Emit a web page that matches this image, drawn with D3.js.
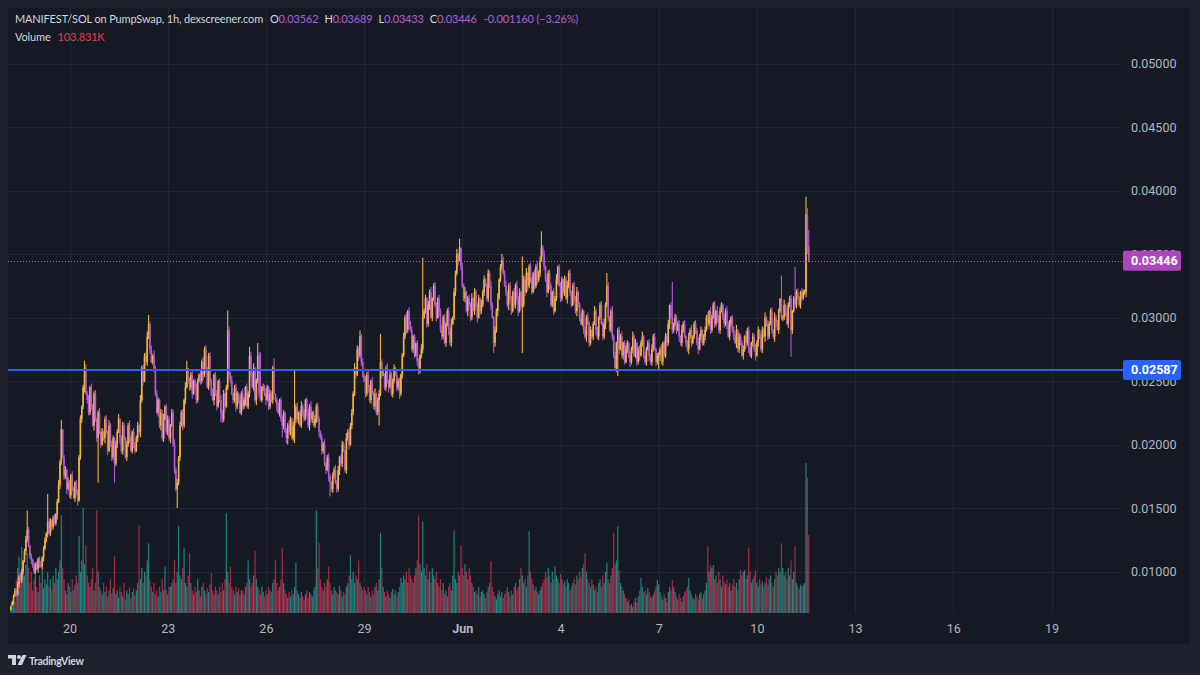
<!DOCTYPE html>
<html>
<head>
<meta charset="utf-8">
<title>MANIFEST/SOL on PumpSwap, 1h</title>
<style>
  html, body { margin: 0; padding: 0; background: #1e222d; }
  svg { display: block; }
  text { font-family: Roboto, "Noto Sans", sans-serif; }
</style>
</head>
<body>
<svg id="chart"></svg>
<script src="https://d3js.org/d3.v7.min.js"></script>
<script>
// hourly candles, prices in units of 0.00001 SOL
const firstOpen = 700;
const closes = [
  730, 760, 810, 850, 820, 900, 960, 930, 1000,
  1080, 1160, 1250, 1330, 1200, 1120, 1090, 1040, 1000, 1060, 1020, 1100, 1050,
  1040, 1110, 1180, 1250, 1300, 1390, 1300, 1400, 1350, 1420, 1380, 1450,
  1550, 1680, 1860, 2120,
  1900, 1750, 1800, 1650, 1700, 1600, 1760, 1650, 1580, 1700, 1620, 1560,
  1900, 2200, 2300, 2450, 2600, 2400,
  2350, 2250, 2450, 2300, 2150, 2400, 2200, 2050, 2250, 2100,
  2000, 2100, 2050, 2200, 2100, 1950, 2150, 2000, 1900, 2050, 1850,
  2000, 2100, 2200, 2050, 1950, 2150, 2050, 1900, 2000, 2150, 2050, 1950, 2100, 2000, 1950, 2050, 2150,
  2100, 2350, 2600, 2500, 2700, 2650, 2850, 2950,
  2750, 2650, 2700, 2600,
  2400, 2250, 2350, 2150, 2250, 2050, 2200, 2300, 2100, 2200, 2050, 2150, 2250,
  2000, 1800, 1650, 1700, 1900, 2150,
  2250, 2150, 2350, 2450, 2600, 2500, 2450, 2550, 2400, 2500, 2450, 2350, 2500, 2550,
  2500, 2650, 2550, 2750, 2600, 2450, 2700, 2500, 2400,
  2350, 2550, 2400, 2300, 2500, 2350, 2250, 2200, 2400, 2300, 2450,
  2900, 2550,
  2500, 2400, 2350, 2450, 2300, 2400, 2350, 2250, 2400, 2300, 2350, 2450, 2300, 2400,
  2700, 2550,
  2450, 2600, 2350, 2500, 2700, 2400, 2350, 2450,
  2450, 2400, 2350, 2450, 2300, 2400, 2350, 2600, 2400,
  2350, 2300, 2250, 2350, 2200, 2150, 2250, 2100, 2050, 2150, 2100, 2200, 2050, 2150,
  2200, 2300, 2200,
  2250, 2150, 2300, 2250, 2200, 2350, 2250, 2150, 2300, 2200, 2250, 2150, 2200, 2300, 2200,
  2100, 2050, 1950, 2000, 1850, 1800,
  1900, 1750, 1700, 1650, 1750, 1800,
  1700, 1650, 1800, 1900, 1850, 2000, 1950, 1800, 2050, 2100, 2000, 2150, 2250,
  2400, 2600, 2550, 2750, 2700, 2850, 2650, 2550,
  2500, 2400, 2550, 2450, 2350, 2500, 2400, 2300, 2400, 2250, 2350, 2400,
  2650, 2550,
  2550, 2450, 2600, 2500, 2450, 2550, 2400, 2500, 2600, 2550, 2450, 2500, 2400, 2550,
  2700, 2850, 3000, 2900, 3050, 2950,
  2900, 2750, 2850, 2700, 2800, 2650, 2600, 2700, 2750,
  3000,
  3050, 3150, 2950, 3100, 3200, 3000, 3150, 3250, 3100, 3000, 3150, 3050,
  2900, 2850, 3000, 2800, 2950, 3050, 2900, 2800, 2950, 3000,
  3200, 3350, 3500, 3450, 3550, 3400,
  3250, 3150, 3200, 3050, 3150, 3100, 3000, 3150, 3050, 3200, 3100, 3000, 3150, 3050, 3100,
  3200, 3300, 3250, 3150, 3350, 3250,
  3100, 3000, 2800, 2900, 3050, 3150,
  3300, 3400, 3450, 3350, 3250,
  3200, 3100, 3250, 3150, 3050, 3200, 3100, 3250, 3150, 3050, 3200, 3100,
  3100,
  3300, 3200, 3350, 3250, 3400, 3300, 3200, 3350, 3250, 3400, 3300, 3350,
  3450, 3550, 3500, 3400,
  3300, 3200, 3350, 3250, 3100, 3200, 3050, 3150, 3300, 3400, 3250, 3150, 3300,
  3200, 3300, 3150, 3250, 3350, 3200, 3100, 3250, 3150, 3050, 3200, 3100,
  3000, 2950, 3050, 2900, 2850, 3000, 2950, 2800, 2900, 2850,
  2950, 3050, 2900, 2850, 3000, 3100, 2950, 2850, 2950,
  3100, 3250, 3000, 2900, 3050,
  2850, 2700, 2600, 2800, 2900,
  2750, 2850, 2700, 2800, 2650, 2750, 2800, 2700, 2650, 2750, 2850, 2700, 2800, 2650,
  2750, 2700, 2800, 2850, 2700, 2650, 2750, 2800, 2700, 2650, 2750, 2850, 2750, 2650, 2700,
  2700, 2750, 2650, 2800, 2700, 2850, 2800,
  2950, 3100, 3000, 2900, 2950, 3000,
  2900, 2950, 2850, 2800, 2900, 2950, 2850, 2800, 2750, 2850, 2900, 2800, 2850, 2950, 2900, 2800, 2750, 2850, 2900, 2800, 2850, 2900,
  3000, 2950, 3050, 2900, 3000, 3100, 2950, 3050, 3000, 2900, 3050, 3100, 3000, 2950, 3050, 2950, 2850, 2950, 3000, 2900,
  2850, 2800, 2900, 2750, 2850, 2800, 2700, 2750, 2850, 2800, 2900, 2750, 2700, 2800, 2850, 2750, 2700, 2800, 2900, 2850, 2750,
  2900, 2850, 3000, 2950, 2850, 2950, 3050, 2900, 2850, 3000, 2950, 2900, 3050, 3150, 3000,
  3000, 3100, 3050, 2950, 3100, 3150, 2900, 3050, 3150, 3100, 3200, 3150, 3100, 3200, 3150, 3200, 3200,
  3810, 3562, 3446
];
// upper / lower wick length per candle, units of 0.0001 SOL
const wickUp = [
  0, 1, 1, 2, 1, 2, 1, 3, 2, 1, 2, 3, 0, 2, 1, 2, 1, 3, 1, 2, 1, 2, 3, 1, 2,
  2, 1, 0, 3, 2, 1, 2, 3, 1, 2, 4, 2, 3, 0, 2, 3, 1, 4, 2, 1, 3, 2, 1, 2, 3,
  2, 3, 1, 2, 0, 3, 2, 4, 1, 3, 2, 2, 3, 1, 2, 4, 2, 3, 1, 2, 3, 1, 4, 2, 3,
  2, 1, 3, 2, 4, 1, 2, 3, 2, 1, 3, 2, 4, 2, 1, 3, 2, 2, 3, 1, 4, 2, 3, 2, 3,
  4, 0, 2, 3, 1, 4, 2, 3, 2, 1, 3, 2, 4, 1, 2, 3, 2, 1, 3, 2, 4, 2, 3, 1, 3,
  2, 3, 1, 4, 2, 0, 3, 2, 4, 1, 2, 3, 2, 1, 3, 2, 4, 2, 3, 1, 2, 3, 2, 4, 1,
  2, 3, 1, 2, 4, 2, 3, 1, 2, 0, 3, 2, 4, 1, 2, 3, 2, 1, 3, 2, 4, 2, 1, 3, 2,
  0, 3, 2, 4, 1, 2, 0, 3, 2, 1, 3, 2, 4, 2, 1, 3, 2, 2, 4, 0, 2, 3, 1, 2, 3,
  2, 1, 3, 2, 4, 2, 1, 3, 0, 2, 3, 1, 2, 4, 2, 3, 1, 2, 3, 2, 4, 1, 2, 3, 2,
  3, 2, 1, 3, 2, 4, 1, 2, 3, 2, 1, 3, 2, 4, 2, 3, 1, 2, 3, 2, 1, 4, 2, 3, 2,
  3, 2, 4, 1, 3, 2, 0, 2, 3, 1, 4, 2, 3, 2, 1, 3, 2, 4, 1, 2, 3, 0, 2, 3, 1,
  2, 4, 1, 3, 2, 2, 3, 1, 4, 2, 3, 1, 2, 3, 2, 4, 1, 3, 2, 3, 1, 2, 0, 2, 3,
  1, 4, 0, 2, 3, 1, 3, 2, 4, 1, 2, 3, 2, 1, 3, 2, 4, 2, 3, 1, 2, 3, 2, 4, 1,
  3, 2, 4, 1, 2, 0, 3, 2, 4, 1, 2, 3, 2, 4, 1, 3, 2, 2, 3, 1, 4, 2, 3, 1, 2,
  3, 2, 4, 2, 1, 3, 2, 4, 1, 2, 0, 3, 2, 4, 1, 2, 3, 2, 1, 3, 2, 4, 2, 3, 1,
  0, 3, 2, 4, 1, 2, 3, 2, 1, 3, 2, 4, 2, 3, 0, 2, 3, 1, 4, 2, 3, 2, 1, 3, 2,
  4, 1, 2, 3, 2, 1, 3, 2, 4, 2, 3, 1, 2, 3, 2, 4, 1, 2, 3, 2, 1, 3, 2, 4, 2,
  3, 1, 2, 4, 2, 3, 1, 2, 3, 2, 4, 2, 0, 3, 1, 2, 4, 2, 3, 1, 2, 3, 2, 4, 1,
  2, 3, 2, 1, 3, 2, 4, 2, 3, 1, 2, 3, 2, 4, 1, 3, 2, 2, 3, 1, 4, 2, 3, 1, 2,
  3, 2, 4, 1, 2, 3, 2, 3, 0, 2, 4, 1, 3, 2, 2, 3, 1, 4, 2, 3, 1, 2, 3, 2, 4,
  1, 2, 3, 2, 4, 2, 3, 1, 2, 3, 2, 4, 1, 3, 2, 2, 3, 1, 4, 2, 3, 2, 1, 3, 2,
  4, 2, 3, 1, 2, 3, 2, 4, 1, 3, 2, 2, 3, 1, 4, 2, 3, 2, 1, 3, 2, 4, 2, 3, 1,
  2, 3, 2, 4, 1, 3, 2, 2, 3, 1, 4, 2, 3, 2, 0, 3, 2, 4, 1, 3, 2, 2, 3, 1, 2,
  0, 2, 3, 2, 1, 3, 2, 2, 0, 0, 0
];
const wickDown = [
  1, 0, 2, 1, 2, 1, 3, 1, 2, 2, 1, 3, 2, 1, 2, 3, 1, 2, 2, 1, 3, 2, 1, 2, 3,
  1, 2, 3, 1, 2, 3, 2, 1, 2, 4, 1, 3, 2, 1, 3, 2, 4, 1, 2, 3, 2, 1, 3, 2, 4,
  1, 2, 3, 2, 4, 1, 3, 2, 2, 3, 1, 4, 2, 3, 0, 2, 3, 1, 2, 4, 2, 3, 1, 2, 3,
  2, 0, 2, 3, 1, 4, 2, 3, 2, 1, 3, 2, 4, 1, 2, 3, 2, 1, 3, 2, 4, 2, 3, 1, 2,
  3, 2, 4, 1, 2, 3, 2, 1, 3, 2, 4, 2, 3, 1, 2, 3, 2, 4, 1, 2, 3, 2, 0, 2, 3,
  1, 4, 2, 3, 1, 2, 3, 2, 4, 1, 2, 3, 2, 1, 3, 2, 4, 2, 3, 1, 2, 3, 2, 1, 4,
  2, 3, 1, 2, 0, 3, 2, 4, 1, 2, 3, 2, 1, 3, 2, 4, 2, 3, 1, 2, 3, 2, 4, 1, 2,
  3, 2, 1, 3, 2, 4, 2, 3, 1, 2, 3, 2, 4, 1, 3, 2, 2, 3, 0, 2, 4, 1, 3, 2, 2,
  3, 1, 4, 0, 2, 3, 1, 2, 0, 3, 2, 4, 1, 2, 3, 2, 1, 3, 2, 4, 2, 3, 1, 2, 3,
  2, 4, 1, 3, 2, 2, 3, 1, 4, 0, 2, 3, 2, 1, 3, 2, 4, 2, 3, 1, 2, 3, 2, 4, 1,
  3, 2, 2, 3, 1, 4, 2, 3, 2, 1, 3, 2, 4, 2, 3, 1, 2, 3, 2, 0, 4, 2, 3, 1, 2,
  3, 2, 4, 1, 2, 3, 2, 1, 3, 2, 4, 2, 3, 1, 2, 3, 2, 4, 1, 2, 3, 2, 1, 3, 2,
  4, 2, 3, 1, 2, 3, 2, 4, 1, 3, 2, 2, 3, 1, 4, 2, 3, 2, 1, 3, 2, 4, 2, 3, 1,
  2, 3, 2, 4, 1, 3, 2, 2, 3, 1, 4, 2, 3, 2, 0, 3, 2, 4, 1, 3, 2, 2, 3, 1, 2,
  3, 2, 4, 1, 0, 3, 2, 4, 1, 2, 3, 2, 1, 3, 2, 4, 2, 3, 1, 2, 3, 2, 4, 1, 3,
  0, 2, 3, 1, 4, 2, 3, 2, 1, 3, 2, 4, 2, 3, 1, 2, 3, 2, 4, 1, 3, 2, 2, 3, 1,
  2, 4, 1, 3, 2, 2, 3, 1, 4, 2, 3, 2, 1, 3, 2, 4, 2, 3, 1, 2, 3, 2, 4, 1, 3,
  2, 2, 3, 1, 4, 2, 3, 2, 1, 3, 2, 4, 2, 3, 1, 2, 3, 2, 0, 3, 2, 4, 1, 2, 3,
  2, 1, 3, 2, 4, 2, 3, 1, 2, 3, 2, 4, 1, 3, 2, 2, 3, 1, 4, 2, 3, 2, 1, 3, 2,
  0, 4, 2, 3, 1, 2, 3, 2, 4, 1, 3, 2, 2, 3, 1, 4, 2, 3, 2, 1, 3, 2, 4, 2, 3,
  1, 2, 3, 2, 4, 1, 3, 2, 2, 3, 1, 4, 2, 3, 2, 1, 3, 2, 4, 2, 3, 1, 2, 3, 2,
  4, 1, 3, 2, 2, 3, 1, 4, 2, 3, 2, 1, 3, 2, 4, 2, 3, 1, 2, 3, 2, 4, 1, 3, 2,
  2, 3, 1, 4, 2, 3, 2, 1, 3, 2, 4, 2, 0, 3, 1, 2, 3, 2, 4, 1, 3, 2, 2, 3, 1,
  2, 3, 1, 2, 3, 2, 1, 2, 0, 0, 0
];
// the larger wick tips [candle index, price]
const highs = [
  [12, 1480], [27, 1610], [37, 2190], [54, 2660], [101, 3020], [129, 2660], [159, 3055],
  [175, 2770], [181, 2800], [183, 2725], [193, 2680], [208, 2580], [256, 2900], [271, 2870],
  [302, 3470], [329, 3620], [360, 3500], [375, 3480], [389, 3680], [437, 3350], [485, 3280],
  [565, 3330], [575, 3400], [583, 3950], [584, 3860], [585, 3689]
];
const lows = [
  [64, 1700], [76, 1700], [122, 1500], [154, 2180], [199, 2055], [203, 2000], [208, 2010],
  [234, 1590], [269, 2230], [270, 2150], [299, 2550], [354, 2720], [375, 2720], [445, 2540],
  [475, 2580], [572, 2690], [583, 3160], [584, 3500], [585, 3433]
];
// hourly volume, thousands
const volumes = [
  5, 8, 12, 15, 45, 60, 75, 55, 88, 70, 50, 65, 80, 60,
  40, 55, 30, 45, 60, 35, 28, 50, 40, 62, 33, 45, 38, 55,
  35, 45, 30, 50, 40, 60, 45, 55, 70, 130,
  60, 45, 30, 25, 40, 35, 28, 45, 30, 38, 50, 40,
  103, 55, 70, 140, 65, 90,
  50, 40, 35, 45, 60, 30, 40, 137, 55, 35,
  30, 25, 40, 28, 35, 22, 30, 45, 26, 33, 76,
  25, 30, 20, 35, 28, 22, 40, 18, 30, 25, 35, 20, 28, 33, 24, 30, 40,
  117, 45, 60, 40, 55, 50, 70, 93, 45,
  35, 28, 40, 25, 30, 22, 35, 28, 45, 30, 62, 30, 25, 35,
  35, 40, 45, 70, 40, 55, 116, 50, 45, 60, 87, 40, 35, 50, 80,
  40, 30, 25, 35, 28, 45, 30, 22, 35, 40, 30, 25, 33, 28, 38, 53, 30, 25, 35,
  30, 25, 35, 28, 40, 30, 45, 133, 55, 40, 62, 35, 30, 25, 35, 28, 33, 25, 30,
  30, 25, 35, 40, 70, 45, 35, 40, 50, 83, 45, 35, 30, 25, 35, 28, 22, 30, 25, 35, 30, 28, 40, 45, 70,
  40, 30, 35, 45, 87, 40, 30, 25, 20, 28, 22, 30, 25, 35, 67, 30, 25, 20, 28, 22, 18, 25, 30, 20, 28, 25, 22, 30, 35, 137,
  60, 93, 45, 35, 30, 40, 35, 45, 62, 40, 30, 25, 35, 30, 28, 25, 36, 30, 22, 28, 25, 35, 40, 50, 77, 45, 55, 40, 50, 45, 70, 40, 35, 30, 35,
  30, 25, 35, 28, 22, 30, 25, 35, 40, 30, 45, 107, 60, 35, 28, 22, 30, 25, 20, 28, 32, 25, 30, 22, 28, 35, 47, 40, 50, 45, 55, 40, 60, 50,
  45, 40, 50, 60, 70, 130, 65, 55, 122, 60, 50, 65, 45, 55, 40, 60, 50, 45, 55, 40, 35, 45, 30, 40, 25, 30, 22, 35, 40, 30, 50, 110, 45, 40, 55, 50, 90,
  60, 50, 65, 55, 45, 60, 50, 40, 35, 28, 30, 25, 35, 22, 28, 30, 25, 20, 28, 35, 40, 69, 35, 28, 22, 18, 25, 30, 22, 28, 20, 25, 30, 35, 28, 22, 30, 25, 35, 40, 30, 35, 45, 60, 50,
  40, 45, 35, 50, 109, 55, 45, 38, 30, 35, 28, 25, 30, 35, 40, 45, 55, 48, 60, 50, 40, 55, 45, 62,
  50, 45, 40, 52, 45, 38, 42, 35, 45, 40, 30, 35, 40, 45, 38, 50, 45, 55, 48, 60, 65, 80, 55, 45, 40, 35, 45, 38, 30, 35, 28, 40, 45, 35, 50, 40, 55, 67, 45, 40,
  50, 60, 107, 65, 70, 116, 57, 40, 35, 30, 25, 20, 15, 18, 10, 12, 8, 15, 20, 14, 22, 30, 47, 35, 28, 30, 25, 33, 28, 22,
  20, 25, 30, 35, 44, 38, 28, 22, 18, 25, 20, 15, 28, 35, 30, 44, 35, 28, 22, 18, 25, 20, 15, 22, 28, 30, 35, 47, 30, 25, 20, 18, 25, 22, 18, 25, 28, 20, 25, 30,
  40, 89, 55, 64, 60, 64, 45, 50, 40, 55, 45, 35, 50, 42, 38, 45, 35, 40, 30, 38, 45, 35, 40, 30, 45, 57, 50, 55, 57, 45, 50, 87, 55, 40, 45, 50, 57, 40, 35, 45, 38, 42, 35, 40, 48, 38, 45, 50, 40, 35,
  45, 55, 50, 60, 55, 93, 60, 50, 55, 45, 60, 50, 70, 45, 55, 89, 40, 36, 32, 38, 35, 38, 40, 200, 180, 103.831
];
const lastBar = Date.UTC(2025, 5, 11, 14);
const priceTicks = [0.01, 0.015, 0.02, 0.025, 0.03, 0.035, 0.04, 0.045, 0.05];
const dateTicks = [
  Date.UTC(2025, 4, 20), Date.UTC(2025, 4, 23), Date.UTC(2025, 4, 26), Date.UTC(2025, 4, 29),
  Date.UTC(2025, 5, 1), Date.UTC(2025, 5, 4), Date.UTC(2025, 5, 7), Date.UTC(2025, 5, 10),
  Date.UTC(2025, 5, 13), Date.UTC(2025, 5, 16), Date.UTC(2025, 5, 19)
].map(function(t) { return new Date(t); });
const supportLevel = 0.02587;

window.onload = function() {
  const width = 1200, height = 675;
  const pane = {left: 8, right: 1190, top: 8, bottom: 644};
  const plotRight = 1120, plotBottom = 613;
  const upColor = "#f2b53c", downColor = "#b35ad6";

  const svg = d3.select("#chart").attr("width", width).attr("height", height);

  // build OHLC rows
  const n = closes.length;
  const hiMap = new Map(highs), loMap = new Map(lows);
  const candles = closes.map(function(c, i) {
    const o = i === 0 ? firstOpen : closes[i - 1];
    let h = Math.max(o, c) + (wickUp[i] || 0) * 10;
    let l = Math.min(o, c) - (wickDown[i] || 0) * 10;
    if (hiMap.has(i)) h = Math.max(Math.max(o, c), hiMap.get(i));
    if (loMap.has(i)) l = Math.min(Math.min(o, c), loMap.get(i));
    return {
      t: new Date(lastBar - (n - 1 - i) * 3600e3),
      o: o / 1e5, h: h / 1e5, l: l / 1e5, c: c / 1e5,
      v: volumes[i]
    };
  });

  const x = d3.scaleUtc()
    .domain([dateTicks[0], dateTicks[dateTicks.length - 1]])
    .range([69.5, 1051.5]);
  const y = d3.scaleLinear().domain([0.01, 0.05]).range([571.5, 63.5]);
  const yVol = d3.scaleLinear().domain([0, 200]).range([plotBottom, 463]);

  // frame
  svg.append("rect").attr("width", width).attr("height", height).attr("fill", "#1e222d");
  svg.append("rect")
    .attr("x", pane.left).attr("y", pane.top)
    .attr("width", pane.right - pane.left).attr("height", pane.bottom - pane.top)
    .attr("fill", "#161a25");

  svg.append("defs").append("clipPath").attr("id", "plotClip")
    .append("rect")
    .attr("x", pane.left).attr("y", pane.top)
    .attr("width", plotRight - pane.left).attr("height", plotBottom - pane.top);

  // grid
  const grid = svg.append("g").attr("stroke", "#232733").attr("stroke-width", 1);
  grid.selectAll("line.h").data(priceTicks).join("line")
    .attr("class", "h")
    .attr("x1", pane.left).attr("x2", plotRight)
    .attr("y1", function(d) { return Math.round(y(d)) + 0.5; })
    .attr("y2", function(d) { return Math.round(y(d)) + 0.5; });
  grid.selectAll("line.v").data(dateTicks).join("line")
    .attr("class", "v")
    .attr("y1", pane.top).attr("y2", plotBottom)
    .attr("x1", function(d) { return Math.round(x(d)) + 0.5; })
    .attr("x2", function(d) { return Math.round(x(d)) + 0.5; });

  const plot = svg.append("g").attr("clip-path", "url(#plotClip)");

  // volume
  plot.append("g").selectAll("rect").data(candles).join("rect")
    .attr("x", function(d) { return x(d.t) - 0.6; })
    .attr("width", 1.2)
    .attr("y", function(d) { return yVol(d.v); })
    .attr("height", function(d) { return plotBottom - yVol(d.v); })
    .attr("fill", function(d) { return d.c >= d.o ? "rgba(38,166,154,0.75)" : "rgba(242,54,92,0.65)"; });

  // candles
  const cg = plot.append("g").selectAll("g").data(candles).join("g")
    .attr("fill", function(d) { return d.c >= d.o ? upColor : downColor; })
    .attr("stroke", function(d) { return d.c >= d.o ? upColor : downColor; });
  cg.append("line")
    .attr("x1", function(d) { return x(d.t); }).attr("x2", function(d) { return x(d.t); })
    .attr("y1", function(d) { return y(d.h); }).attr("y2", function(d) { return y(d.l); })
    .attr("stroke-width", 1.1);
  cg.append("rect")
    .attr("stroke", "none")
    .attr("x", function(d) { return x(d.t) - 0.8; })
    .attr("width", 1.6)
    .attr("y", function(d) { return y(Math.max(d.o, d.c)); })
    .attr("height", function(d) { return Math.max(1, Math.abs(y(d.o) - y(d.c))); });

  const last = candles[n - 1];

  // last price dotted line and support line
  svg.append("line")
    .attr("x1", pane.left).attr("x2", 1123)
    .attr("y1", Math.round(y(last.c)) + 0.5).attr("y2", Math.round(y(last.c)) + 0.5)
    .attr("stroke", "#c060e0").attr("stroke-width", 1).attr("stroke-dasharray", "1,2");
  svg.append("line")
    .attr("x1", pane.left).attr("x2", 1123)
    .attr("y1", y(supportLevel)).attr("y2", y(supportLevel))
    .attr("stroke", "#2962ff").attr("stroke-width", 2);

  // price axis
  const yAxis = svg.append("g")
    .attr("transform", "translate(1124,0)")
    .call(d3.axisRight(y).tickValues(priceTicks).tickFormat(d3.format(".5f")).tickSize(0));
  yAxis.select(".domain").remove();
  yAxis.selectAll("text")
    .attr("x", 7).attr("fill", "#b2b5be")
    .style("font-size", "12.5px").style("font-family", "Roboto, sans-serif");

  // price labels
  const tags = [
    {v: last.c, fill: "#ab47bc"},
    {v: supportLevel, fill: "#2962ff"}
  ];
  const tg = svg.append("g").selectAll("g").data(tags).join("g")
    .attr("transform", function(d) { return "translate(1123," + y(d.v) + ")"; });
  tg.append("rect")
    .attr("x", 0).attr("y", -10).attr("width", 58).attr("height", 20).attr("rx", 2)
    .attr("fill", function(d) { return d.fill; });
  tg.append("text")
    .attr("x", 8).attr("y", 4.5)
    .attr("fill", "#ffffff").style("font-size", "12.5px").style("font-weight", "700")
    .text(function(d) { return d3.format(".5f")(d.v); });

  // time axis
  const xAxis = svg.append("g")
    .attr("transform", "translate(0," + plotBottom + ")")
    .call(d3.axisBottom(x).tickValues(dateTicks).tickSize(0)
      .tickFormat(function(d) { return d.getUTCDate() === 1 ? "Jun" : d.getUTCDate(); }));
  xAxis.select(".domain").remove();
  xAxis.selectAll("text")
    .attr("y", 11).attr("fill", "#b2b5be")
    .style("font-size", "12.5px").style("font-family", "Roboto, sans-serif")
    .style("font-weight", function(d) { return d.getUTCDate() === 1 ? "700" : "400"; });

  // legend
  const fmt = d3.format(".5f");
  const chg = last.c - last.o;
  const legend = svg.append("text").attr("x", 15).attr("y", 23)
    .style("font-size", "11px").style("letter-spacing", "-0.15px")
    .style("font-family", "Lato, sans-serif").attr("fill", "#d1d4dc");
  legend.append("tspan").text("MANIFEST/SOL on PumpSwap, 1h, dexscreener.com");
  [["O", last.o], ["H", last.h], ["L", last.l], ["C", last.c]].forEach(function(p, k) {
    legend.append("tspan").attr("dx", k === 0 ? 7 : 6).text(p[0]);
    legend.append("tspan").attr("fill", downColor).text(fmt(p[1]));
  });
  legend.append("tspan").attr("dx", 7).attr("fill", downColor)
    .text(d3.format(".6f")(chg).replace("−", "-") + " (" + d3.format(".2%")(chg / last.o).replace("-", "−") + ")");

  const volLegend = svg.append("text").attr("x", 15).attr("y", 41)
    .style("font-size", "11px").style("letter-spacing", "-0.15px")
    .style("font-family", "Lato, sans-serif").attr("fill", "#d1d4dc");
  volLegend.append("tspan").text("Volume");
  volLegend.append("tspan").attr("dx", 7).attr("fill", "#f23645")
    .text(d3.format(".3f")(last.v) + "K");

  // TradingView mark
  const logo = svg.append("g").attr("transform", "translate(8,655)").attr("fill", "#d1d4dc");
  logo.append("path").attr("d", "M0,0 H8 V10 H4 V3.5 H0 Z");
  logo.append("circle").attr("cx", 11).attr("cy", 2).attr("r", 2);
  logo.append("path").attr("d", "M14.5,0 H18.5 L14,10 H9.5 Z");
  svg.append("text").attr("x", 29).attr("y", 665)
    .style("font-size", "10.5px").style("letter-spacing", "-0.3px")
    .style("font-family", "Lato, sans-serif").style("font-weight", "700")
    .attr("fill", "#d1d4dc")
    .text("TradingView");
};
</script>
</body>
</html>
